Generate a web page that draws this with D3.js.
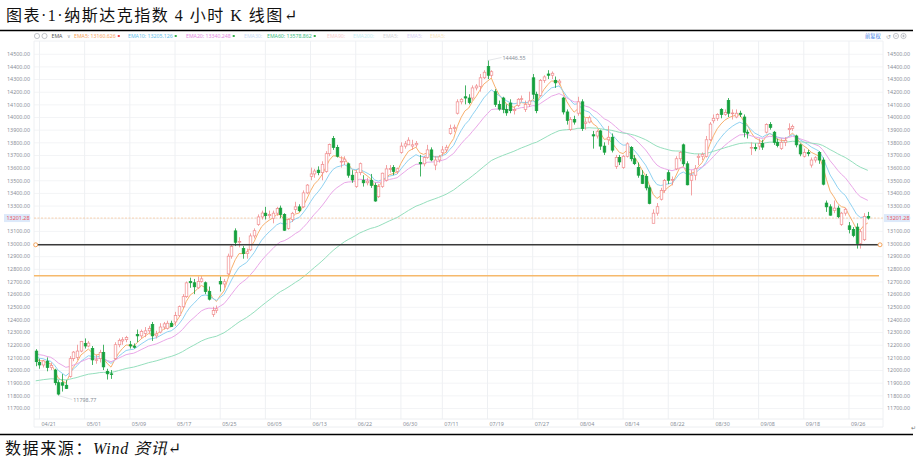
<!DOCTYPE html>
<html>
<head>
<meta charset="utf-8">
<script src="https://cdn.jsdelivr.net/npm/d3@7"></script>
<style>
  body { margin: 0; background: #fff; }
  svg { display: block; }
</style>
</head>
<body>
<svg id="chart" width="917" height="462"></svg>
<script>

// 4 hour bars: date, open, high, low, close
var bars = [
['04/20',12150,12165,12030,12066],
['04/21',12060,12090,12010,12040],['04/21',12040,12080,12020,12072],
['04/24',12070,12100,11990,12020],['04/24',12020,12060,12000,12037],
['04/25',12000,12010,11880,11900],['04/25',11900,11920,11798.77,11810],
['04/26',11900,11968,11830,11880],['04/26',11880,11920,11850,11854],
['04/27',11950,12110,11940,12090],['04/27',12090,12150,12070,12142],
['04/28',12100,12200,12080,12150],['04/28',12150,12230,12140,12227],
['05/01',12210,12250,12170,12190],['05/01',12190,12230,12180,12213],
['05/02',12170,12190,12040,12080],['05/02',12080,12120,12050,12081],
['05/03',12090,12160,12060,12140],['05/03',12140,12200,12000,12025],
['05/04',11990,12010,11925,11970],['05/04',11970,12000,11930,11966],
['05/05',12090,12220,12080,12200],['05/05',12200,12250,12180,12235],
['05/08',12230,12260,12200,12240],['05/08',12240,12270,12220,12257],
['05/09',12200,12230,12170,12190],['05/09',12190,12210,12170,12180],
['05/10',12280,12320,12220,12270],['05/10',12270,12320,12250,12306],
['05/11',12290,12340,12260,12310],['05/11',12310,12350,12290,12329],
['05/12',12360,12380,12230,12270],['05/12',12270,12310,12250,12285],
['05/15',12300,12370,12290,12340],['05/15',12340,12380,12320,12365],
['05/16',12330,12390,12320,12370],['05/16',12370,12390,12340,12343],
['05/17',12380,12460,12350,12430],['05/17',12430,12510,12420,12501],
['05/18',12500,12600,12490,12580],['05/18',12580,12700,12570,12689],
['05/19',12700,12730,12650,12690],['05/19',12690,12720,12600,12658],
['05/22',12650,12740,12640,12700],['05/22',12700,12750,12690,12721],
['05/23',12690,12700,12600,12620],['05/23',12620,12660,12550,12560],
['05/24',12440,12500,12420,12470],['05/24',12470,12510,12450,12484],
['05/25',12700,12740,12620,12680],['05/25',12680,12720,12650,12698],
['05/26',12760,12920,12740,12900],['05/26',12900,12990,12880,12976],
['05/30',13100,13120,12980,13010],['05/30',13010,13050,12970,13017],
['05/31',12960,12980,12880,12920],['05/31',12920,12960,12880,12935],
['06/01',12950,13080,12940,13060],['06/01',13060,13120,13040,13101],
['06/02',13150,13230,13140,13210],['06/02',13210,13260,13190,13241],
['06/05',13240,13290,13190,13220],['06/05',13220,13260,13200,13229],
['06/06',13200,13260,13160,13240],['06/06',13240,13290,13220,13276],
['06/07',13280,13300,13200,13230],['06/07',13230,13240,13100,13105],
['06/08',13120,13200,13110,13190],['06/08',13190,13250,13170,13239],
['06/09',13270,13330,13240,13290],['06/09',13290,13310,13250,13259],
['06/12',13290,13420,13280,13400],['06/12',13400,13470,13390,13462],
['06/13',13530,13600,13500,13550],['06/13',13550,13590,13520,13573],
['06/14',13580,13610,13540,13560],['06/14',13560,13650,13500,13626],
['06/15',13570,13730,13560,13710],['06/15',13710,13790,13690,13783],
['06/16',13830,13850,13740,13760],['06/16',13760,13780,13680,13690],
['06/20',13650,13690,13600,13650],['06/20',13650,13690,13620,13667],
['06/21',13630,13640,13520,13540],['06/21',13540,13580,13480,13502],
['06/22',13450,13580,13440,13560],['06/22',13560,13640,13540,13631],
['06/23',13500,13540,13450,13480],['06/23',13480,13520,13460,13493],
['06/26',13500,13550,13440,13460],['06/26',13460,13480,13330,13336],
['06/27',13370,13470,13360,13450],['06/27',13450,13560,13440,13556],
['06/28',13500,13620,13490,13590],['06/28',13590,13620,13560,13592],
['06/29',13600,13620,13540,13570],['06/29',13570,13600,13550,13591],
['06/30',13720,13800,13710,13770],['06/30',13770,13810,13750,13788],
['07/03',13780,13840,13780,13817],
['07/05',13770,13820,13740,13780],['07/05',13780,13810,13760,13792],
['07/06',13640,13700,13530,13630],['07/06',13630,13690,13610,13679],
['07/07',13680,13780,13670,13740],['07/07',13740,13760,13650,13661],
['07/10',13620,13690,13580,13660],['07/10',13660,13700,13640,13685],
['07/11',13720,13770,13690,13740],['07/11',13740,13780,13720,13761],
['07/12',13870,13940,13860,13910],['07/12',13910,13940,13880,13919],
['07/13',14030,14140,14020,14120],['07/13',14120,14150,14100,14139],
['07/14',14160,14250,14100,14150],['07/14',14150,14180,14100,14114],
['07/17',14150,14250,14130,14230],['07/17',14230,14260,14210,14245],
['07/18',14240,14340,14200,14310],['07/18',14310,14370,14300,14354],
['07/19',14400,14446.55,14300,14330],['07/19',14330,14370,14310,14358],
['07/20',14200,14220,14080,14100],['07/20',14100,14130,14050,14063],
['07/21',14150,14160,14030,14060],['07/21',14060,14100,14010,14033],
['07/24',14110,14140,14030,14050],['07/24',14050,14080,14020,14059],
['07/25',14090,14150,14080,14140],['07/25',14140,14170,14120,14145],
['07/26',14060,14130,14040,14100],['07/26',14100,14200,14080,14127],
['07/27',14310,14340,14140,14180],['07/27',14180,14200,14030,14050],
['07/28',14170,14300,14160,14290],['07/28',14290,14330,14270,14317],
['07/31',14340,14370,14300,14330],['07/31',14330,14360,14300,14346],
['08/01',14290,14320,14230,14270],['08/01',14270,14300,14250,14284],
['08/02',14150,14160,14020,14040],['08/02',14040,14060,13940,13973],
['08/03',13900,14000,13890,13980],['08/03',13980,14010,13940,13960],
['08/04',14030,14160,14010,14120],['08/04',14120,14140,13890,13909],
['08/07',13950,13990,13900,13960],['08/07',13960,14010,13950,13994],
['08/08',13860,13890,13750,13850],['08/08',13850,13900,13830,13884],
['08/09',13890,13900,13740,13770],['08/09',13770,13800,13700,13722],
['08/10',13820,13930,13780,13840],['08/10',13840,13870,13720,13738],
['08/11',13610,13700,13590,13680],['08/11',13680,13700,13620,13645],
['08/14',13600,13700,13590,13690],['08/14',13690,13800,13680,13788],
['08/15',13760,13770,13650,13670],['08/15',13670,13700,13620,13631],
['08/16',13600,13640,13520,13540],['08/16',13540,13580,13470,13475],
['08/17',13530,13550,13420,13440],['08/17',13440,13460,13310,13317],
['08/18',13160,13270,13160,13240],['08/18',13240,13320,13220,13291],
['08/21',13350,13440,13340,13420],['08/21',13420,13510,13400,13498],
['08/22',13560,13580,13470,13500],['08/22',13500,13530,13460,13506],
['08/23',13590,13690,13580,13670],['08/23',13670,13730,13650,13721],
['08/24',13780,13790,13610,13630],['08/24',13630,13650,13460,13464],
['08/25',13500,13580,13380,13540],['08/25',13540,13620,13500,13591],
['08/28',13680,13710,13620,13690],['08/28',13690,13720,13660,13705],
['08/29',13690,13850,13680,13820],['08/29',13820,13960,13810,13944],
['08/30',13970,14020,13950,13990],['08/30',13990,14030,13970,14019],
['08/31',14060,14070,13990,14020],['08/31',14020,14060,14010,14035],
['09/01',14130,14150,14000,14030],['09/01',14030,14060,13980,14032],
['09/05',14000,14060,13990,14030],['09/05',14030,14050,14000,14021],
['09/06',14000,14020,13840,13880],['09/06',13880,13900,13830,13872],
['09/07',13760,13800,13700,13760],['09/07',13760,13790,13730,13749],
['09/08',13770,13830,13740,13790],['09/08',13790,13820,13740,13762],
['09/11',13880,13950,13870,13940],['09/11',13940,13960,13900,13918],
['09/12',13880,13890,13780,13800],['09/12',13800,13830,13760,13774],
['09/13',13750,13830,13740,13800],['09/13',13800,13840,13770,13814],
['09/14',13900,13950,13860,13910],['09/14',13910,13940,13890,13926],
['09/15',13850,13860,13760,13780],['09/15',13780,13790,13690,13708],
['09/18',13690,13750,13680,13720],['09/18',13720,13740,13690,13710],
['09/19',13620,13680,13600,13660],['09/19',13660,13690,13640,13678],
['09/20',13720,13730,13630,13660],['09/20',13660,13680,13460,13469],
['09/21',13320,13340,13250,13290],['09/21',13290,13310,13220,13224],
['09/22',13260,13340,13240,13280],['09/22',13280,13300,13200,13212],
['09/25',13150,13250,13140,13240],['09/25',13240,13280,13220,13271],
['09/26',13140,13170,13080,13110],['09/26',13110,13130,13050,13064],
['09/27',13130,13160,12960,13000],['09/27',13000,13110,12960,13093],
['09/28',13030,13240,13020,13215],['09/28',13215,13250,13190,13201.28]
];

var tickLabels = ['04/21','05/01','05/09','05/17','05/25','06/05','06/13','06/22','06/30',
                  '07/11','07/19','07/27','08/04','08/14','08/22','08/30','09/08','09/18','09/26'];
var yTicks = d3.range(11700, 14501, 100);
var lastPrice = 13201.28;
var levels = [12990, 12745];          // drawn horizontal lines: black, orange
var emaPeriods = [5, 10, 20, 60];
var emaStart = [12090, 12105, 12130, 11915];   // EMA values at the first bar
var legendNames = ['EMA5', 'EMA10', 'EMA20', 'EMA30', 'EMA60', 'EMA90', 'EMA200', 'EMA5', 'EMA5', 'EMA5'];
var legendValues = ['13160.626', '13205.126', '13340.248', '', '13578.862', '', '', '', '', ''];

var svg = d3.select('#chart');
var serif = '"Liberation Serif", "DejaVu Serif", "Noto Sans CJK SC", serif';
var sans = '"Noto Sans", "Liberation Sans", sans-serif';

// document caption
svg.append('text').attr('x', 6).attr('y', 21)
  .attr('font-family', serif).attr('font-size', 16).attr('letter-spacing', 1.5).attr('fill', '#111')
  .text('图表·1·纳斯达克指数 4 小时 K 线图↵');
svg.append('line').attr('x1', 0).attr('x2', 913).attr('y1', 30.5).attr('y2', 30.5)
  .attr('stroke', '#000').attr('stroke-width', 1.5);

// plot frame
var pLeft = 34, pRight = 883, pTop = 41, pBottom = 419;
var x = d3.scaleLinear().domain([0, bars.length - 1]).range([35.7, 867.8]);
var y = d3.scaleLinear().domain([11700, 14500]).range([408, 53.75]);

svg.append('line').attr('x1', pLeft).attr('x2', pRight).attr('y1', pTop).attr('y2', pTop)
  .attr('stroke', '#eef0f3');

// horizontal grid
svg.append('g').selectAll('line').data(yTicks).join('line')
  .attr('x1', pLeft).attr('x2', pRight)
  .attr('y1', function(d) { return y(d) + 0.5; }).attr('y2', function(d) { return y(d) + 0.5; })
  .attr('stroke', '#f3f4f6');

// vertical grid at date ticks
var tickIdx = tickLabels.map(function(t) {
  return bars.findIndex(function(b) { return b[0] === t; });
});
svg.append('g').selectAll('line').data(tickIdx).join('line')
  .attr('x1', function(d) { return x(d); }).attr('x2', function(d) { return x(d); })
  .attr('y1', pTop).attr('y2', pBottom)
  .attr('stroke', '#eef0f3');
[pLeft, pRight].forEach(function(v) {
  svg.append('line').attr('x1', v).attr('x2', v).attr('y1', pTop).attr('y2', 427).attr('stroke', '#eef0f3');
});
svg.append('line').attr('x1', pLeft).attr('x2', pRight).attr('y1', pBottom).attr('y2', pBottom).attr('stroke', '#eceef1');
svg.append('line').attr('x1', pLeft).attr('x2', pRight).attr('y1', 427).attr('y2', 427).attr('stroke', '#eceef1');

// y axes
function styleAxis(g) {
  g.select('.domain').remove();
  g.selectAll('.tick line').remove();
  g.selectAll('text').attr('font-family', sans).attr('font-size', 5.4).attr('fill', '#8a8f99');
}
svg.append('g').attr('transform', 'translate(30,0)')
  .call(d3.axisLeft(y).tickValues(yTicks).tickFormat(d3.format('.2f')).tickSize(0).tickPadding(0))
  .call(styleAxis);
svg.append('g').attr('transform', 'translate(887,0)')
  .call(d3.axisRight(y).tickValues(yTicks).tickFormat(d3.format('.2f')).tickSize(0).tickPadding(0))
  .call(styleAxis);

// x axis
svg.append('g').attr('transform', 'translate(0,' + 420 + ')')
  .call(d3.axisBottom(x).tickValues(tickIdx).tickFormat(function(d) { return bars[d][0]; }).tickSize(0).tickPadding(2))
  .call(styleAxis)
  .selectAll('text').attr('text-anchor', 'start').attr('dx', 1.5);

// last price line and tags
svg.append('line').attr('x1', pLeft).attr('x2', pRight)
  .attr('y1', y(lastPrice)).attr('y2', y(lastPrice))
  .attr('stroke', '#f7c08e').attr('stroke-width', 0.7).attr('stroke-dasharray', '2,1.5');
[[4, 30], [884, 910]].forEach(function(r) {
  svg.append('rect').attr('x', r[0]).attr('y', y(lastPrice) - 4).attr('width', r[1] - r[0]).attr('height', 8)
    .attr('fill', '#dde9fa');
  svg.append('text').attr('x', r[0] + 2.5).attr('y', y(lastPrice) + 2)
    .attr('font-family', sans).attr('font-size', 5.4).attr('fill', '#e8535b').text(d3.format('.2f')(lastPrice));
});

// EMA lines
var closes = bars.map(function(b) { return b[4]; });
var emaColors = ['#f8b06e', '#8fd2f2', '#eaa7e8', '#95dfbd'];
svg.append('clipPath').attr('id', 'plot').append('rect')
  .attr('x', pLeft).attr('y', pTop).attr('width', pRight - pLeft).attr('height', pBottom - pTop);
emaPeriods.forEach(function(n, k) {
  var a = 2 / (n + 1), prev = emaStart[k];
  var vals = closes.map(function(c, i) {
    prev = i === 0 ? emaStart[k] : a * c + (1 - a) * prev;
    return prev;
  });
  svg.append('path').datum(vals)
    .attr('clip-path', 'url(#plot)')
    .attr('fill', 'none').attr('stroke', emaColors[k]).attr('stroke-width', 1)
    .attr('d', d3.line().x(function(d, i) { return x(i); }).y(function(d) { return y(d); }));
});

// candles
var up = '#f08a8c', down = '#15a03c', bw = 2.6;
var cg = svg.append('g');
bars.forEach(function(b, i) {
  var o = b[1], h = b[2], l = b[3], c = b[4];
  var col = c >= o ? up : down;
  var cx = Math.round(x(i)) + 0.5;
  cg.append('line').attr('x1', cx).attr('x2', cx).attr('y1', y(h)).attr('y2', y(l))
    .attr('stroke', col).attr('stroke-width', 0.8);
  var top_ = y(Math.max(o, c)), hgt = Math.max(0.8, Math.abs(y(o) - y(c)));
  cg.append('rect').attr('x', cx - bw / 2).attr('y', top_).attr('width', bw).attr('height', hgt)
    .attr('fill', c >= o ? '#fff' : down).attr('stroke', col).attr('stroke-width', 0.7);
});

// drawn level lines
svg.append('line').attr('x1', 35.7).attr('x2', 880).attr('y1', y(levels[0])).attr('y2', y(levels[0]))
  .attr('stroke', '#3a3a3a').attr('stroke-width', 1.6);
[35.7, 880].forEach(function(v) {
  svg.append('circle').attr('cx', v).attr('cy', y(levels[0])).attr('r', 2)
    .attr('fill', '#fff').attr('stroke', '#f39a4a').attr('stroke-width', 0.9);
});
svg.append('line').attr('x1', pLeft).attr('x2', 879).attr('y1', y(levels[1])).attr('y2', y(levels[1]))
  .attr('stroke', '#f6b96c').attr('stroke-width', 1.6);

// high / low marks
var hiIdx = d3.maxIndex(bars, function(b) { return b[2]; });
var loIdx = d3.minIndex(bars, function(b) { return b[3]; });
[[hiIdx, bars[hiIdx][2], -3], [loIdx, bars[loIdx][3], 4]].forEach(function(m) {
  var px = x(m[0]), py = y(m[1]);
  svg.append('line').attr('x1', px).attr('y1', py).attr('x2', px + 14).attr('y2', py + m[2])
    .attr('stroke', '#c8ccd2').attr('stroke-width', 0.5);
  svg.append('text').attr('x', px + 15).attr('y', py + m[2] + 2)
    .attr('font-family', sans).attr('font-size', 5.4).attr('fill', '#8a8f99')
    .text(d3.format('.2f')(m[1]));
});

// toolbar / legend
var tb = svg.append('g').attr('font-family', sans).attr('font-size', 5.2);
tb.append('circle').attr('cx', 37).attr('cy', 36).attr('r', 2.6).attr('fill', 'none').attr('stroke', '#9aa0a8').attr('stroke-width', 0.6);
tb.append('circle').attr('cx', 44.5).attr('cy', 36).attr('r', 2.6).attr('fill', 'none').attr('stroke', '#9aa0a8').attr('stroke-width', 0.6);
tb.append('text').attr('x', 51.5).attr('y', 38).attr('fill', '#555').text('EMA');
tb.append('text').attr('x', 67).attr('y', 38).attr('fill', '#9aa0a8').text('∨');
var legX = [74, 128, 186, 244, 267, 327, 353, 383, 407, 430];
var legCol = ['#f7a35c', '#64c1ec', '#e489e2', '#c9dcf6', '#40bd84', '#f9cfcf', '#c6eff5', '#d4d6da', '#dad3f5', '#f8e6bf'];
var legMark = ['#f2474a', '#34b04a', '#34b04a', null, '#34b04a'];
legendNames.forEach(function(nm, i) {
  var t = tb.append('text').attr('x', legX[i]).attr('y', 38).attr('fill', legCol[i])
    .text(nm + ':' + (legendValues[i] ? ' ' + legendValues[i] : ''));
  if (legMark[i]) {
    var w = t.node().getComputedTextLength();
    tb.append('rect').attr('x', legX[i] + w + 2).attr('y', 35).attr('width', 2).attr('height', 2).attr('fill', legMark[i]);
  }
});
tb.append('text').attr('x', 865).attr('y', 38).attr('fill', '#3b7ce6').attr('font-family', '"Noto Sans CJK SC", sans-serif').text('前复权');
tb.append('text').attr('x', 886).attr('y', 38.5).attr('fill', '#9aa0a8').attr('font-size', 6).text('↺');
[896, 903.5].forEach(function(v, i) {
  tb.append('circle').attr('cx', v).attr('cy', 36).attr('r', 2.6).attr('fill', 'none').attr('stroke', '#9aa0a8').attr('stroke-width', 0.6);
  tb.append('line').attr('x1', v - 1.3).attr('x2', v + 1.3).attr('y1', 36).attr('y2', 36).attr('stroke', '#9aa0a8').attr('stroke-width', 0.6);
  if (i === 1) tb.append('line').attr('x1', v).attr('x2', v).attr('y1', 34.7).attr('y2', 37.3).attr('stroke', '#9aa0a8').attr('stroke-width', 0.6);
});

// bottom rule and source line
svg.append('line').attr('x1', 0).attr('x2', 913).attr('y1', 434.5).attr('y2', 434.5)
  .attr('stroke', '#000').attr('stroke-width', 1.5);
svg.append('text').attr('x', 911).attr('y', 430).attr('font-family', sans).attr('font-size', 6).attr('fill', '#777').text('↵');
var src = svg.append('text').attr('x', 5).attr('y', 454).attr('font-family', serif).attr('font-size', 16)
  .attr('letter-spacing', 1.6).attr('fill', '#111');
src.append('tspan').text('数据来源：');
src.append('tspan').attr('font-style', 'italic').attr('letter-spacing', 0.8).text('Wind 资讯');
src.append('tspan').text('↵');

</script>
</body>
</html>
